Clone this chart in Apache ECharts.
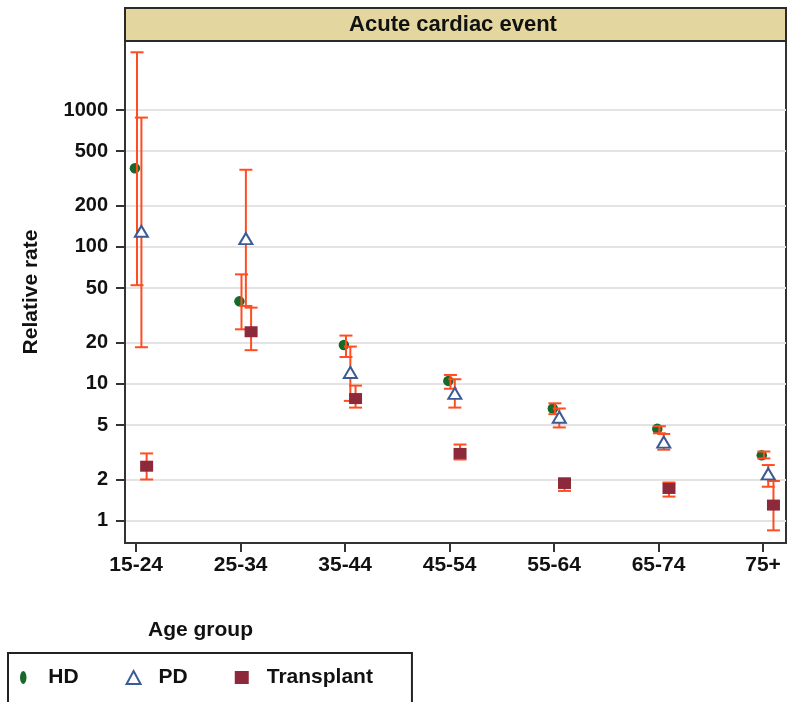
<!DOCTYPE html>
<html>
<head>
<meta charset="utf-8">
<title>Acute cardiac event</title>
<script src="https://cdn.jsdelivr.net/npm/echarts@6/dist/echarts.min.js"></script>
<style>
  html, body { margin: 0; padding: 0; background: #fff; }
  #chart { width: 788px; height: 702px; }
</style>
</head>
<body>
<div id="chart"></div>
<script>
// Age groups along the x axis
const categories = ['15-24', '25-34', '35-44', '45-54', '55-64', '65-74', '75+'];
// Log-scale tick labels on the y axis
const yTicks = [1, 2, 5, 10, 20, 50, 100, 200, 500, 1000];

// Relative rates with lower / upper confidence limits
const hdRate  = [375, 40, 19.2, 10.5, 6.6, 4.7, 3.0];
const hdLower = [52.5, 25, 15.7, 9.2, 6.0, 4.35, 2.85];
const hdUpper = [2640, 63, 22.5, 11.6, 7.2, 4.9, 3.2];

const pdRate  = [130, 115, 12.1, 8.5, 5.7, 3.75, 2.2];
const pdLower = [18.5, 37, 7.5, 6.7, 4.8, 3.3, 1.77];
const pdUpper = [880, 366, 18.7, 10.8, 6.6, 4.3, 2.55];

const txRate  = [2.5, 24, 7.8, 3.1, 1.87, 1.72, 1.3];
const txLower = [2.0, 17.6, 6.7, 2.8, 1.65, 1.5, 0.85];
const txUpper = [3.1, 36, 9.7, 3.6, 2.05, 1.9, 1.95];

const FONT = '"Liberation Sans", Arial, sans-serif';
const BAR_COLOR = '#ff4d21';
const lg = Math.log10;

// points sit beside each other inside an age group
const points = (offset, vals) => vals.map((v, i) => [i + offset, lg(v)]);
const limits = (offset, lo, hi) => lo.map((l, i) => [i + offset, lg(l), lg(hi[i])]);

function errorBar(params, api) {
  const x = api.value(0);
  const lo = api.coord([x, api.value(1)]);
  const hi = api.coord([x, api.value(2)]);
  const w = 6.5;
  const style = { stroke: BAR_COLOR, lineWidth: 2 };
  return {
    type: 'group',
    children: [
      { type: 'line', shape: { x1: lo[0], y1: lo[1], x2: hi[0], y2: hi[1] }, style },
      { type: 'line', shape: { x1: lo[0] - w, y1: lo[1], x2: lo[0] + w, y2: lo[1] }, style },
      { type: 'line', shape: { x1: hi[0] - w, y1: hi[1], x2: hi[0] + w, y2: hi[1] }, style }
    ]
  };
}

const barSeries = (name, data) => ({
  name: name + ' CI',
  type: 'custom',
  renderItem: errorBar,
  encode: { x: 0, y: [1, 2] },
  data,
  z: 3,
  silent: true
});

const chart = echarts.init(document.getElementById('chart'), null, { renderer: 'canvas' });

chart.setOption({
  animation: false,
  backgroundColor: '#ffffff',
  textStyle: { fontFamily: FONT },
  grid: {
    left: 125, right: 2, top: 41, bottom: 159,
    show: true, borderColor: '#333', borderWidth: 2, backgroundColor: 'transparent'
  },
  graphic: [
    {
      type: 'rect', z: 10,
      shape: { x: 125, y: 8, width: 661, height: 33 },
      style: { fill: '#e3d79f', stroke: '#2a2a2a', lineWidth: 2 }
    },
    {
      type: 'text', z: 11, x: 453, y: 25,
      style: {
        text: 'Acute cardiac event', font: 'bold 22px ' + FONT,
        fill: '#111', align: 'center', verticalAlign: 'middle'
      }
    },
    {
      type: 'text', z: 11, x: 148, y: 630,
      style: {
        text: 'Age group', font: 'bold 21px ' + FONT,
        fill: '#111', align: 'left', verticalAlign: 'middle'
      }
    }
  ],
  xAxis: {
    type: 'value',
    min: -0.107,
    max: 6.22,
    axisLine: { show: true, onZero: false, lineStyle: { color: '#333', width: 2 } },
    axisTick: { show: true, length: 9, customValues: categories.map((c, i) => i), lineStyle: { color: '#333', width: 2 } },
    axisLabel: {
      customValues: categories.map((c, i) => i),
      formatter: v => categories[Math.round(v)],
      margin: 12,
      fontSize: 21, fontWeight: 'bold', color: '#111', fontFamily: FONT
    },
    splitLine: { show: false }
  },
  yAxis: {
    type: 'value',
    min: -0.163,
    max: 3.504,
    name: 'Relative rate',
    nameLocation: 'middle',
    nameGap: 83,
    nameRotate: 90,
    nameTextStyle: { fontSize: 21, fontWeight: 'bold', color: '#111', fontFamily: FONT },
    axisLine: { show: true, onZero: false, lineStyle: { color: '#333', width: 2 } },
    axisTick: { show: true, length: 9, customValues: yTicks.map(lg), lineStyle: { color: '#333', width: 2 } },
    axisLabel: {
      customValues: yTicks.map(lg),
      formatter: v => String(Math.round(Math.pow(10, v))),
      margin: 17,
      fontSize: 20, fontWeight: 'bold', color: '#111', fontFamily: FONT
    },
    splitLine: { show: true, lineStyle: { color: '#e3e3e3', width: 2 } }
  },
  legend: {
    left: 8, top: 653,
    orient: 'horizontal',
    data: [
      { name: 'HD', icon: 'path://M0,10 a5,10 0 1,0 10,0 a5,10 0 1,0 -10,0' },
      { name: 'PD' },
      { name: 'Transplant', icon: 'rect' }
    ],
    itemWidth: 14, itemHeight: 13,
    itemGap: 47,
    padding: [14, 39, 40, 12],
    borderColor: '#222', borderWidth: 2,
    backgroundColor: '#fff',
    textStyle: { fontSize: 21, fontWeight: 'bold', color: '#111', fontFamily: FONT, padding: [0, 0, 0, 13] }
  },
  series: [
    {
      name: 'HD', type: 'scatter', symbol: 'circle', symbolSize: 10.5,
      itemStyle: { color: '#17692b', opacity: 1 },
      data: points(-0.012, hdRate), z: 2
    },
    barSeries('HD', limits(0.008, hdLower, hdUpper)),
    barSeries('PD', limits(0.05, pdLower, pdUpper)),
    barSeries('Transplant', limits(0.1, txLower, txUpper)),
    {
      name: 'PD', type: 'scatter', symbol: 'triangle', symbolSize: [13, 11],
      itemStyle: { color: '#ffffff', borderColor: '#3b5b96', borderWidth: 2, opacity: 1 },
      data: points(0.05, pdRate), z: 4
    },
    {
      name: 'Transplant', type: 'scatter', symbol: 'rect', symbolSize: [13, 11],
      itemStyle: { color: '#8c2a3b', opacity: 1 },
      data: points(0.1, txRate), z: 4
    }
  ]
});
</script>
</body>
</html>
